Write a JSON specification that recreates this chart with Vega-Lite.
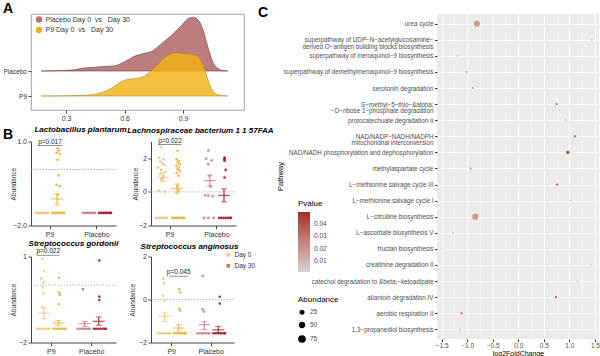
{
"$schema":"https://vega.github.io/schema/vega-lite/v6.json",
"padding":{"left":2,"top":1,"right":0,"bottom":0},
"config":{"font":"Liberation Sans","view":{"stroke":null},
 "axis":{"grid":false,"domainColor":"#444","tickColor":"#444","labelColor":"#333","labelFontSize":7,"tickSize":3,"labelPadding":1.5,"titleFontWeight":"normal","titleFontSize":6.5,"titleColor":"#333"},
 "title":{"color":"#000"}},
"datasets":{
"ridge":[
{"g":"Placebo","x":0.172,"d":0},{"g":"Placebo","x":0.3,"d":0.07},{"g":"Placebo","x":0.343,"d":0.13},{"g":"Placebo","x":0.39,"d":0.3},{"g":"Placebo","x":0.44,"d":0.37},{"g":"Placebo","x":0.479,"d":0.43},{"g":"Placebo","x":0.548,"d":0.53},{"g":"Placebo","x":0.6,"d":0.93},{"g":"Placebo","x":0.65,"d":1.47},{"g":"Placebo","x":0.7,"d":1.77},{"g":"Placebo","x":0.745,"d":2.03},{"g":"Placebo","x":0.787,"d":2.7},{"g":"Placebo","x":0.838,"d":3.53},{"g":"Placebo","x":0.89,"d":4.53},{"g":"Placebo","x":0.924,"d":5.2},{"g":"Placebo","x":0.95,"d":5.37},{"g":"Placebo","x":0.976,"d":5.13},{"g":"Placebo","x":1.001,"d":4.2},{"g":"Placebo","x":1.027,"d":2.4},{"g":"Placebo","x":1.052,"d":0.9},{"g":"Placebo","x":1.078,"d":0.27},{"g":"Placebo","x":1.1,"d":0.05},{"g":"Placebo","x":1.129,"d":0},
{"g":"P9","x":0.172,"d":0},{"g":"P9","x":0.3,"d":0.02},{"g":"P9","x":0.394,"d":0.07},{"g":"P9","x":0.479,"d":0.33},{"g":"P9","x":0.531,"d":0.77},{"g":"P9","x":0.573,"d":1.33},{"g":"P9","x":0.616,"d":1.67},{"g":"P9","x":0.668,"d":1.77},{"g":"P9","x":0.702,"d":2.0},{"g":"P9","x":0.745,"d":2.67},{"g":"P9","x":0.787,"d":3.5},{"g":"P9","x":0.83,"d":4.17},{"g":"P9","x":0.864,"d":4.33},{"g":"P9","x":0.915,"d":4.23},{"g":"P9","x":0.967,"d":4.07},{"g":"P9","x":1.001,"d":3.17},{"g":"P9","x":1.027,"d":1.67},{"g":"P9","x":1.052,"d":0.5},{"g":"P9","x":1.086,"d":0.1},{"g":"P9","x":1.129,"d":0}
],
"pts":[
{"sp":"L","g":"P9","c":"P9 Day 0","s":"a1","v":-1.55},{"sp":"L","g":"P9","c":"P9 Day 0","s":"a3","v":-1.55},{"sp":"L","g":"P9","c":"P9 Day 0","s":"a5","v":-1.55},{"sp":"L","g":"P9","c":"P9 Day 0","s":"a7","v":-1.55},{"sp":"L","g":"P9","c":"P9 Day 0","s":"a9","v":-1.55},{"sp":"L","g":"P9","c":"P9 Day 0","s":"a11","v":-1.55},{"sp":"L","g":"P9","c":"P9 Day 0","s":"a12","v":-1.55},
{"sp":"L","g":"P9","c":"P9 Day 30","s":"b6","v":0.76},{"sp":"L","g":"P9","c":"P9 Day 30","s":"b7","v":0.68},{"sp":"L","g":"P9","c":"P9 Day 30","s":"b5","v":0.6},{"sp":"L","g":"P9","c":"P9 Day 30","s":"b8","v":0.55},{"sp":"L","g":"P9","c":"P9 Day 30","s":"b6","v":0.35},{"sp":"L","g":"P9","c":"P9 Day 30","s":"b7","v":-0.21},{"sp":"L","g":"P9","c":"P9 Day 30","s":"b5","v":-0.55},{"sp":"L","g":"P9","c":"P9 Day 30","s":"b8","v":-0.6},{"sp":"L","g":"P9","c":"P9 Day 30","s":"b6","v":-0.9},
{"sp":"L","g":"P9","c":"P9 Day 30","s":"b1","v":-1.55},{"sp":"L","g":"P9","c":"P9 Day 30","s":"b3","v":-1.55},{"sp":"L","g":"P9","c":"P9 Day 30","s":"b5","v":-1.55},{"sp":"L","g":"P9","c":"P9 Day 30","s":"b7","v":-1.55},{"sp":"L","g":"P9","c":"P9 Day 30","s":"b9","v":-1.55},{"sp":"L","g":"P9","c":"P9 Day 30","s":"b11","v":-1.55},{"sp":"L","g":"P9","c":"P9 Day 30","s":"b12","v":-1.55},
{"sp":"L","g":"Placebo","c":"Placebo Day 0","s":"a1","v":-1.55},{"sp":"L","g":"Placebo","c":"Placebo Day 0","s":"a3","v":-1.55},{"sp":"L","g":"Placebo","c":"Placebo Day 0","s":"a5","v":-1.55},{"sp":"L","g":"Placebo","c":"Placebo Day 0","s":"a7","v":-1.55},{"sp":"L","g":"Placebo","c":"Placebo Day 0","s":"a9","v":-1.55},{"sp":"L","g":"Placebo","c":"Placebo Day 0","s":"a11","v":-1.55},{"sp":"L","g":"Placebo","c":"Placebo Day 0","s":"a12","v":-1.55},
{"sp":"L","g":"Placebo","c":"Placebo Day 30","s":"b1","v":-1.55},{"sp":"L","g":"Placebo","c":"Placebo Day 30","s":"b3","v":-1.55},{"sp":"L","g":"Placebo","c":"Placebo Day 30","s":"b5","v":-1.55},{"sp":"L","g":"Placebo","c":"Placebo Day 30","s":"b7","v":-1.55},{"sp":"L","g":"Placebo","c":"Placebo Day 30","s":"b9","v":-1.55},{"sp":"L","g":"Placebo","c":"Placebo Day 30","s":"b11","v":-1.55},{"sp":"L","g":"Placebo","c":"Placebo Day 30","s":"b12","v":-1.55},

{"sp":"La","g":"P9","c":"P9 Day 0","s":"a6","v":2.67},{"sp":"La","g":"P9","c":"P9 Day 0","s":"a4","v":2.04},{"sp":"La","g":"P9","c":"P9 Day 0","s":"a8","v":1.94},{"sp":"La","g":"P9","c":"P9 Day 0","s":"a5","v":1.8},{"sp":"La","g":"P9","c":"P9 Day 0","s":"a7","v":1.7},{"sp":"La","g":"P9","c":"P9 Day 0","s":"a9","v":1.6},{"sp":"La","g":"P9","c":"P9 Day 0","s":"a3","v":1.45},{"sp":"La","g":"P9","c":"P9 Day 0","s":"a6","v":1.31},{"sp":"La","g":"P9","c":"P9 Day 0","s":"a10","v":1.2},{"sp":"La","g":"P9","c":"P9 Day 0","s":"a5","v":1.06},{"sp":"La","g":"P9","c":"P9 Day 0","s":"a8","v":0.92},{"sp":"La","g":"P9","c":"P9 Day 0","s":"a6","v":0.76},{"sp":"La","g":"P9","c":"P9 Day 0","s":"a4","v":0.08},{"sp":"La","g":"P9","c":"P9 Day 0","s":"a9","v":0.02},
{"sp":"La","g":"P9","c":"P9 Day 0","s":"a1","v":-1.55},{"sp":"La","g":"P9","c":"P9 Day 0","s":"a3","v":-1.55},{"sp":"La","g":"P9","c":"P9 Day 0","s":"a5","v":-1.55},{"sp":"La","g":"P9","c":"P9 Day 0","s":"a7","v":-1.55},{"sp":"La","g":"P9","c":"P9 Day 0","s":"a9","v":-1.55},{"sp":"La","g":"P9","c":"P9 Day 0","s":"a11","v":-1.55},
{"sp":"La","g":"P9","c":"P9 Day 30","s":"b6","v":2.43},{"sp":"La","g":"P9","c":"P9 Day 30","s":"b5","v":1.94},{"sp":"La","g":"P9","c":"P9 Day 30","s":"b7","v":1.84},{"sp":"La","g":"P9","c":"P9 Day 30","s":"b6","v":1.75},{"sp":"La","g":"P9","c":"P9 Day 30","s":"b8","v":1.65},{"sp":"La","g":"P9","c":"P9 Day 30","s":"b5","v":1.55},{"sp":"La","g":"P9","c":"P9 Day 30","s":"b7","v":1.45},{"sp":"La","g":"P9","c":"P9 Day 30","s":"b6","v":1.35},{"sp":"La","g":"P9","c":"P9 Day 30","s":"b8","v":1.25},{"sp":"La","g":"P9","c":"P9 Day 30","s":"b5","v":1.12},{"sp":"La","g":"P9","c":"P9 Day 30","s":"b7","v":0.96},{"sp":"La","g":"P9","c":"P9 Day 30","s":"b6","v":0.33},{"sp":"La","g":"P9","c":"P9 Day 30","s":"b7","v":0.08},
{"sp":"La","g":"P9","c":"P9 Day 30","s":"b1","v":-1.55},{"sp":"La","g":"P9","c":"P9 Day 30","s":"b3","v":-1.55},{"sp":"La","g":"P9","c":"P9 Day 30","s":"b5","v":-1.55},{"sp":"La","g":"P9","c":"P9 Day 30","s":"b7","v":-1.55},{"sp":"La","g":"P9","c":"P9 Day 30","s":"b9","v":-1.55},{"sp":"La","g":"P9","c":"P9 Day 30","s":"b11","v":-1.55},{"sp":"La","g":"P9","c":"P9 Day 30","s":"b12","v":-1.55},
{"sp":"La","g":"Placebo","c":"Placebo Day 0","s":"a6","v":2.47},{"sp":"La","g":"Placebo","c":"Placebo Day 0","s":"a4","v":1.98},{"sp":"La","g":"Placebo","c":"Placebo Day 0","s":"a9","v":1.88},{"sp":"La","g":"Placebo","c":"Placebo Day 0","s":"a6","v":1.65},{"sp":"La","g":"Placebo","c":"Placebo Day 0","s":"a7","v":0.96},{"sp":"La","g":"Placebo","c":"Placebo Day 0","s":"a8","v":0.33},{"sp":"La","g":"Placebo","c":"Placebo Day 0","s":"a3","v":-0.2},{"sp":"La","g":"Placebo","c":"Placebo Day 0","s":"a6","v":-0.22},{"sp":"La","g":"Placebo","c":"Placebo Day 0","s":"a10","v":-0.25},
{"sp":"La","g":"Placebo","c":"Placebo Day 0","s":"a2","v":-1.55},{"sp":"La","g":"Placebo","c":"Placebo Day 0","s":"a6","v":-1.55},{"sp":"La","g":"Placebo","c":"Placebo Day 0","s":"a11","v":-1.55},
{"sp":"La","g":"Placebo","c":"Placebo Day 30","s":"b6","v":2.04},{"sp":"La","g":"Placebo","c":"Placebo Day 30","s":"b6","v":1.98},{"sp":"La","g":"Placebo","c":"Placebo Day 30","s":"b6","v":1.92},{"sp":"La","g":"Placebo","c":"Placebo Day 30","s":"b6","v":1.86},{"sp":"La","g":"Placebo","c":"Placebo Day 30","s":"b7","v":1.31},{"sp":"La","g":"Placebo","c":"Placebo Day 30","s":"b6","v":0.86},
{"sp":"La","g":"Placebo","c":"Placebo Day 30","s":"b1","v":-1.55},{"sp":"La","g":"Placebo","c":"Placebo Day 30","s":"b3","v":-1.55},{"sp":"La","g":"Placebo","c":"Placebo Day 30","s":"b5","v":-1.55},{"sp":"La","g":"Placebo","c":"Placebo Day 30","s":"b7","v":-1.55},{"sp":"La","g":"Placebo","c":"Placebo Day 30","s":"b9","v":-1.55},{"sp":"La","g":"Placebo","c":"Placebo Day 30","s":"b11","v":-1.55},{"sp":"La","g":"Placebo","c":"Placebo Day 30","s":"b12","v":-1.55},

{"sp":"G","g":"P9","c":"P9 Day 0","s":"a6","v":0.92},{"sp":"G","g":"P9","c":"P9 Day 0","s":"a7","v":0.49},{"sp":"G","g":"P9","c":"P9 Day 0","s":"a5","v":0.23},{"sp":"G","g":"P9","c":"P9 Day 0","s":"a7","v":0.09},{"sp":"G","g":"P9","c":"P9 Day 0","s":"a6","v":-0.08},{"sp":"G","g":"P9","c":"P9 Day 0","s":"a7","v":-0.29},{"sp":"G","g":"P9","c":"P9 Day 0","s":"a6","v":-0.77},
{"sp":"G","g":"P9","c":"P9 Day 0","s":"a1","v":-1.52},{"sp":"G","g":"P9","c":"P9 Day 0","s":"a3","v":-1.52},{"sp":"G","g":"P9","c":"P9 Day 0","s":"a5","v":-1.52},{"sp":"G","g":"P9","c":"P9 Day 0","s":"a7","v":-1.52},{"sp":"G","g":"P9","c":"P9 Day 0","s":"a9","v":-1.52},{"sp":"G","g":"P9","c":"P9 Day 0","s":"a11","v":-1.52},{"sp":"G","g":"P9","c":"P9 Day 0","s":"a12","v":-1.52},
{"sp":"G","g":"P9","c":"P9 Day 30","s":"b6","v":0.26},{"sp":"G","g":"P9","c":"P9 Day 30","s":"b6","v":-0.25},{"sp":"G","g":"P9","c":"P9 Day 30","s":"b7","v":-0.33},{"sp":"G","g":"P9","c":"P9 Day 30","s":"b6","v":-0.66},
{"sp":"G","g":"P9","c":"P9 Day 30","s":"b1","v":-1.52},{"sp":"G","g":"P9","c":"P9 Day 30","s":"b3","v":-1.52},{"sp":"G","g":"P9","c":"P9 Day 30","s":"b5","v":-1.52},{"sp":"G","g":"P9","c":"P9 Day 30","s":"b7","v":-1.52},{"sp":"G","g":"P9","c":"P9 Day 30","s":"b9","v":-1.52},{"sp":"G","g":"P9","c":"P9 Day 30","s":"b11","v":-1.52},{"sp":"G","g":"P9","c":"P9 Day 30","s":"b12","v":-1.52},
{"sp":"G","g":"Placebo","c":"Placebo Day 0","s":"a6","v":-0.14},
{"sp":"G","g":"Placebo","c":"Placebo Day 0","s":"a1","v":-1.52},{"sp":"G","g":"Placebo","c":"Placebo Day 0","s":"a3","v":-1.52},{"sp":"G","g":"Placebo","c":"Placebo Day 0","s":"a5","v":-1.52},{"sp":"G","g":"Placebo","c":"Placebo Day 0","s":"a7","v":-1.52},{"sp":"G","g":"Placebo","c":"Placebo Day 0","s":"a9","v":-1.52},{"sp":"G","g":"Placebo","c":"Placebo Day 0","s":"a11","v":-1.52},{"sp":"G","g":"Placebo","c":"Placebo Day 0","s":"a12","v":-1.52},
{"sp":"G","g":"Placebo","c":"Placebo Day 30","s":"b6","v":0.86},{"sp":"G","g":"Placebo","c":"Placebo Day 30","s":"b6","v":-0.4},{"sp":"G","g":"Placebo","c":"Placebo Day 30","s":"b6","v":-0.52},
{"sp":"G","g":"Placebo","c":"Placebo Day 30","s":"b1","v":-1.52},{"sp":"G","g":"Placebo","c":"Placebo Day 30","s":"b3","v":-1.52},{"sp":"G","g":"Placebo","c":"Placebo Day 30","s":"b5","v":-1.52},{"sp":"G","g":"Placebo","c":"Placebo Day 30","s":"b7","v":-1.52},{"sp":"G","g":"Placebo","c":"Placebo Day 30","s":"b9","v":-1.52},{"sp":"G","g":"Placebo","c":"Placebo Day 30","s":"b11","v":-1.52},{"sp":"G","g":"Placebo","c":"Placebo Day 30","s":"b12","v":-1.52},

{"sp":"An","g":"P9","c":"P9 Day 0","s":"a6","v":0.97},{"sp":"An","g":"P9","c":"P9 Day 0","s":"a7","v":0.76},{"sp":"An","g":"P9","c":"P9 Day 0","s":"a6","v":0.17},{"sp":"An","g":"P9","c":"P9 Day 0","s":"a7","v":-0.06},
{"sp":"An","g":"P9","c":"P9 Day 0","s":"a1","v":-1.57},{"sp":"An","g":"P9","c":"P9 Day 0","s":"a3","v":-1.57},{"sp":"An","g":"P9","c":"P9 Day 0","s":"a5","v":-1.57},{"sp":"An","g":"P9","c":"P9 Day 0","s":"a7","v":-1.57},{"sp":"An","g":"P9","c":"P9 Day 0","s":"a9","v":-1.57},{"sp":"An","g":"P9","c":"P9 Day 0","s":"a11","v":-1.57},{"sp":"An","g":"P9","c":"P9 Day 0","s":"a12","v":-1.57},
{"sp":"An","g":"P9","c":"P9 Day 30","s":"b6","v":0.49},{"sp":"An","g":"P9","c":"P9 Day 30","s":"b7","v":0.33},{"sp":"An","g":"P9","c":"P9 Day 30","s":"b6","v":-0.43},{"sp":"An","g":"P9","c":"P9 Day 30","s":"b7","v":-0.51},
{"sp":"An","g":"P9","c":"P9 Day 30","s":"b1","v":-1.57},{"sp":"An","g":"P9","c":"P9 Day 30","s":"b3","v":-1.57},{"sp":"An","g":"P9","c":"P9 Day 30","s":"b5","v":-1.57},{"sp":"An","g":"P9","c":"P9 Day 30","s":"b7","v":-1.57},{"sp":"An","g":"P9","c":"P9 Day 30","s":"b9","v":-1.57},{"sp":"An","g":"P9","c":"P9 Day 30","s":"b11","v":-1.57},{"sp":"An","g":"P9","c":"P9 Day 30","s":"b12","v":-1.57},
{"sp":"An","g":"Placebo","c":"Placebo Day 0","s":"a6","v":1.1},{"sp":"An","g":"Placebo","c":"Placebo Day 0","s":"a6","v":-0.46},{"sp":"An","g":"Placebo","c":"Placebo Day 0","s":"a7","v":-0.57},
{"sp":"An","g":"Placebo","c":"Placebo Day 0","s":"a1","v":-1.57},{"sp":"An","g":"Placebo","c":"Placebo Day 0","s":"a3","v":-1.57},{"sp":"An","g":"Placebo","c":"Placebo Day 0","s":"a5","v":-1.57},{"sp":"An","g":"Placebo","c":"Placebo Day 0","s":"a7","v":-1.57},{"sp":"An","g":"Placebo","c":"Placebo Day 0","s":"a9","v":-1.57},{"sp":"An","g":"Placebo","c":"Placebo Day 0","s":"a11","v":-1.57},{"sp":"An","g":"Placebo","c":"Placebo Day 0","s":"a12","v":-1.57},
{"sp":"An","g":"Placebo","c":"Placebo Day 30","s":"b7","v":0.13},{"sp":"An","g":"Placebo","c":"Placebo Day 30","s":"b7","v":-0.19},
{"sp":"An","g":"Placebo","c":"Placebo Day 30","s":"b1","v":-1.57},{"sp":"An","g":"Placebo","c":"Placebo Day 30","s":"b3","v":-1.57},{"sp":"An","g":"Placebo","c":"Placebo Day 30","s":"b5","v":-1.57},{"sp":"An","g":"Placebo","c":"Placebo Day 30","s":"b7","v":-1.57},{"sp":"An","g":"Placebo","c":"Placebo Day 30","s":"b9","v":-1.57},{"sp":"An","g":"Placebo","c":"Placebo Day 30","s":"b11","v":-1.57},{"sp":"An","g":"Placebo","c":"Placebo Day 30","s":"b12","v":-1.57}
],
"err":[
{"sp":"L","g":"P9","day":"Day 0","c":"P9 Day 0","m":-1.55,"lo":-1.55,"hi":-1.55},{"sp":"L","g":"P9","day":"Day 30","c":"P9 Day 30","m":-1.05,"lo":-1.26,"hi":-0.87},{"sp":"L","g":"Placebo","day":"Day 0","c":"Placebo Day 0","m":-1.55,"lo":-1.55,"hi":-1.55},{"sp":"L","g":"Placebo","day":"Day 30","c":"Placebo Day 30","m":-1.55,"lo":-1.55,"hi":-1.55},
{"sp":"La","g":"P9","day":"Day 0","c":"P9 Day 0","m":0.86,"lo":0.6,"hi":1.16},{"sp":"La","g":"P9","day":"Day 30","c":"P9 Day 30","m":0.2,"lo":-0.08,"hi":0.47},{"sp":"La","g":"Placebo","day":"Day 0","c":"Placebo Day 0","m":0.67,"lo":0.33,"hi":1.0},{"sp":"La","g":"Placebo","day":"Day 30","c":"Placebo Day 30","m":-0.21,"lo":-0.6,"hi":0.18},
{"sp":"G","g":"P9","day":"Day 0","c":"P9 Day 0","m":-0.98,"lo":-1.17,"hi":-0.79},{"sp":"G","g":"P9","day":"Day 30","c":"P9 Day 30","m":-1.32,"lo":-1.4,"hi":-1.23},{"sp":"G","g":"Placebo","day":"Day 0","c":"Placebo Day 0","m":-1.34,"lo":-1.44,"hi":-1.26},{"sp":"G","g":"Placebo","day":"Day 30","c":"Placebo Day 30","m":-1.26,"lo":-1.4,"hi":-1.11},
{"sp":"An","g":"P9","day":"Day 0","c":"P9 Day 0","m":-0.78,"lo":-1.02,"hi":-0.62},{"sp":"An","g":"P9","day":"Day 30","c":"P9 Day 30","m":-1.33,"lo":-1.46,"hi":-1.17},{"sp":"An","g":"Placebo","day":"Day 0","c":"Placebo Day 0","m":-1.17,"lo":-1.41,"hi":-1.02},{"sp":"An","g":"Placebo","day":"Day 30","c":"Placebo Day 30","m":-1.41,"lo":-1.54,"hi":-1.25}
],
"pv":[
{"sp":"L","g":"P9","t":"p=0.017","ty":0.91,"u":0.86},
{"sp":"La","g":"P9","t":"p=0.022","ty":2.9,"u":2.82},
{"sp":"G","g":"P9","t":"p=0.022","ty":1.11,"u":1.045},
{"sp":"An","g":"P9","t":"p=0.045","ty":1.165,"u":1.085}
],
"path":[
{"pw":"urea cycle","lfc":-0.81,"p":0.018,"ab":72},
{"pw":"superpathway of UDP−N−acetylglucosamine−\nderived O−antigen building blocks biosynthesis","lfc":1.44,"p":0.006,"ab":5},
{"pw":"superpathway of menaquinol−9 biosynthesis","lfc":-1.19,"p":0.01,"ab":5},
{"pw":"superpathway of demethylmenaquinol−9 biosynthesis","lfc":-1.01,"p":0.03,"ab":4},
{"pw":"serotonin degradation","lfc":-0.89,"p":0.035,"ab":4},
{"pw":"S−methyl−5−thio−&alpha;\n−D−ribose 1−phosphate degradation","lfc":0.75,"p":0.048,"ab":5},
{"pw":"protocatechuate degradation II","lfc":0.93,"p":0.012,"ab":5},
{"pw":"NAD/NADP−NADH/NADPH\nmitochondrial interconversion","lfc":1.11,"p":0.025,"ab":12},
{"pw":"NAD/NADH phosphorylation and dephosphorylation","lfc":0.97,"p":0.043,"ab":22},
{"pw":"methylaspartate cycle","lfc":-0.93,"p":0.03,"ab":4},
{"pw":"L−methionine salvage cycle III","lfc":0.76,"p":0.048,"ab":5},
{"pw":"L−methionine salvage cycle I","lfc":1.02,"p":0.01,"ab":5},
{"pw":"L−citrulline biosynthesis","lfc":-0.84,"p":0.018,"ab":78},
{"pw":"L−ascorbate biosynthesis V","lfc":-1.27,"p":0.008,"ab":4},
{"pw":"fructan biosynthesis","lfc":-1.51,"p":0.005,"ab":4},
{"pw":"creatinine degradation II","lfc":1.42,"p":0.005,"ab":5},
{"pw":"catechol degradation to &beta;−ketoadipate","lfc":1.16,"p":0.008,"ab":5},
{"pw":"allantoin degradation IV","lfc":0.74,"p":0.049,"ab":6},
{"pw":"aerobic respiration II","lfc":-1.11,"p":0.02,"ab":12},
{"pw":"1,3−propanediol biosynthesis","lfc":-1.14,"p":0.008,"ab":5}
]
},
"hconcat":[
{"vconcat":[
 {"width":213,"height":96,
  "title":{"text":"A","anchor":"start","frame":"group","fontSize":14,"fontWeight":"bold","dx":-28,"baseline":"alphabetic","offset":-13},
  "view":{"stroke":"#8c8c8c","strokeWidth":0.8},
  "data":{"name":"ridge"},
  "layer":[
   {"transform":[{"filter":"datum.g==='Placebo'"}],
    "mark":{"type":"area","interpolate":"monotone","fillOpacity":0.92,"stroke":"#6e3f3f","strokeWidth":0.6},
    "encoding":{
     "x":{"field":"x","type":"quantitative","title":null,"scale":{"domain":[0.12,1.212],"nice":false,"zero":false},"axis":{"values":[0.3,0.6,0.9],"format":".1f","domain":false,"tickSize":3,"labelFontSize":7}},
     "y":{"field":"d","type":"quantitative","title":null,"scale":{"domain":[-3.9,5.7],"nice":false,"zero":false},"axis":null},
     "y2":{"datum":0},
     "color":{"field":"g","type":"nominal","scale":{"domain":["Placebo","P9"],"range":["#B87272","#F2B310"]},
      "legend":{"orient":"none","legendX":4.5,"legendY":2,"title":null,"labelFontSize":7,"labelColor":"#333","symbolType":"circle","symbolSize":40,"symbolStrokeWidth":0,"symbolOpacity":1,"rowPadding":2.5,"labelOffset":3,"labelExpr":"datum.label + ' Day 0\u00a0\u00a0vs\u00a0\u00a0\u00a0Day 30'"}}}},
   {"transform":[{"filter":"datum.g==='P9'"}],
    "mark":{"type":"area","interpolate":"monotone","fillOpacity":0.8,"stroke":"#a07a20","strokeWidth":0.5},
    "encoding":{
     "x":{"field":"x","type":"quantitative","title":null,"scale":{"domain":[0.12,1.212],"nice":false,"zero":false}},
     "y":{"field":"d","type":"quantitative","title":null,"scale":{"domain":[-1.4,8.2],"nice":false,"zero":false},"axis":{"orient":"left","values":[0,2.5],"labelExpr":"datum.value < 1 ? 'P9' : 'Placebo'","domain":false,"tickSize":3,"labelFontSize":6.5}},
     "y2":{"datum":0},
     "color":{"field":"g","type":"nominal","scale":{"domain":["Placebo","P9"],"range":["#B87272","#F2B310"]}}}}
  ],
  "resolve":{"scale":{"y":"independent"},"axis":{"y":"independent"}}
 },
 {"title":{"text":"B","anchor":"start","frame":"group","fontSize":14,"fontWeight":"bold","dx":-28,"baseline":"alphabetic","offset":-27},
  "columns":2,"spacing":{"row":31,"column":35},"bounds":"flush",
  "resolve":{"scale":{"color":"independent","fill":"independent"}},
  "concat":[
   {"width":85,"height":84,
    "title":{"text":"Lactobacillus plantarum","frame":"group","fontSize":8,"fontStyle":"italic","fontWeight":"bold","baseline":"alphabetic","offset":-2.5,"dx":7},
    "layer":[
     {"data":{"values":[{}]},"mark":{"type":"rule","strokeDash":[1.5,1.5],"color":"#98a8b8","strokeWidth":0.8},"encoding":{"y":{"datum":0,"type":"quantitative","title":"Abundance","scale":{"domain":[-2,1],"nice":false,"zero":false}}}},
     {"data":{"name":"pts"},"transform":[{"filter":"datum.sp==='L'"}],"mark":{"type":"circle","size":7,"opacity":0.9},
      "encoding":{
       "x":{"field":"g","type":"nominal","title":null,"scale":{"domain":["P9","Placebo"],"paddingInner":0.4,"paddingOuter":0.105},"axis":{"labelAngle":0}},
       "xOffset":{"field":"s","type":"nominal","scale":{"domain":["a1","a2","a3","a4","a5","a6","a7","a8","a9","a10","a11","a12","g1","g2","g3","b1","b2","b3","b4","b5","b6","b7","b8","b9","b10","b11","b12"],"paddingInner":0,"paddingOuter":0}},
       "y":{"field":"v","type":"quantitative","title":"Abundance","scale":{"domain":[-2,1],"nice":false,"zero":false},"axis":{"values":[-2,-1.5,-1,-0.5,0,0.5,1],"format":".1f","titleX":-18,"titleY":42,"titleBaseline":"middle","titleAngle":270}},
       "color":{"field":"c","type":"nominal","scale":{"domain":["P9 Day 0","P9 Day 30","Placebo Day 0","Placebo Day 30"],"range":["#E9C67F","#E3B03A","#C97F8B","#A01C2C"]},"legend":null}}},
     {"data":{"name":"err"},"transform":[{"filter":"datum.sp==='L'"}],"mark":{"type":"tick","size":12,"thickness":1.3},
      "encoding":{"x":{"field":"g","type":"nominal","title":null,"scale":{"domain":["P9","Placebo"],"paddingInner":0.4,"paddingOuter":0.105}},"xOffset":{"field":"day","type":"nominal","scale":{"domain":["Day 0","Day 30"],"paddingInner":0,"paddingOuter":0}},"y":{"field":"m","type":"quantitative","title":"Abundance","scale":{"domain":[-2,1],"nice":false,"zero":false}},"color":{"field":"c","type":"nominal","legend":null}}},
     {"data":{"name":"err"},"transform":[{"filter":"datum.sp==='L'"}],"mark":{"type":"rule","strokeWidth":1.1},
      "encoding":{"x":{"field":"g","type":"nominal","title":null,"scale":{"domain":["P9","Placebo"],"paddingInner":0.4,"paddingOuter":0.105}},"xOffset":{"field":"day","type":"nominal","scale":{"domain":["Day 0","Day 30"],"paddingInner":0,"paddingOuter":0}},"y":{"field":"lo","type":"quantitative","title":"Abundance","scale":{"domain":[-2,1],"nice":false,"zero":false}},"y2":{"field":"hi"},"color":{"field":"c","type":"nominal","legend":null}}},
     {"data":{"name":"err"},"transform":[{"filter":"datum.sp==='L'"}],"mark":{"type":"tick","size":6,"thickness":1},
      "encoding":{"x":{"field":"g","type":"nominal","title":null,"scale":{"domain":["P9","Placebo"],"paddingInner":0.4,"paddingOuter":0.105}},"xOffset":{"field":"day","type":"nominal","scale":{"domain":["Day 0","Day 30"],"paddingInner":0,"paddingOuter":0}},"y":{"field":"lo","type":"quantitative","title":"Abundance","scale":{"domain":[-2,1],"nice":false,"zero":false}},"color":{"field":"c","type":"nominal","legend":null}}},
     {"data":{"name":"err"},"transform":[{"filter":"datum.sp==='L'"}],"mark":{"type":"tick","size":6,"thickness":1},
      "encoding":{"x":{"field":"g","type":"nominal","title":null,"scale":{"domain":["P9","Placebo"],"paddingInner":0.4,"paddingOuter":0.105}},"xOffset":{"field":"day","type":"nominal","scale":{"domain":["Day 0","Day 30"],"paddingInner":0,"paddingOuter":0}},"y":{"field":"hi","type":"quantitative","title":"Abundance","scale":{"domain":[-2,1],"nice":false,"zero":false}},"color":{"field":"c","type":"nominal","legend":null}}},
     {"data":{"name":"pv"},"transform":[{"filter":"datum.sp==='L'"}],"mark":{"type":"text","fontSize":6.5,"baseline":"alphabetic","color":"#222"},
      "encoding":{"x":{"field":"g","type":"nominal","title":null,"scale":{"domain":["P9","Placebo"],"paddingInner":0.4,"paddingOuter":0.105}},"y":{"field":"ty","type":"quantitative","title":"Abundance","scale":{"domain":[-2,1],"nice":false,"zero":false}},"text":{"field":"t"}}},
     {"data":{"name":"pv"},"transform":[{"filter":"datum.sp==='L'"}],"mark":{"type":"tick","size":25,"thickness":0.7,"color":"#222"},
      "encoding":{"x":{"field":"g","type":"nominal","title":null,"scale":{"domain":["P9","Placebo"],"paddingInner":0.4,"paddingOuter":0.105}},"y":{"field":"u","type":"quantitative","title":"Abundance","scale":{"domain":[-2,1],"nice":false,"zero":false}}}}
    ],
    "resolve":{"scale":{"xOffset":"independent"}}
   },
   {"width":85,"height":84,
    "title":{"text":"Lachnospiraceae bacterium 1 1 57FAA","frame":"group","fontSize":8,"fontStyle":"italic","fontWeight":"bold","baseline":"alphabetic","offset":-2.5,"dx":7},
    "layer":[
     {"data":{"values":[{}]},"mark":{"type":"rule","strokeDash":[1.5,1.5],"color":"#98a8b8","strokeWidth":0.8},"encoding":{"y":{"datum":0,"type":"quantitative","title":"Abundance","scale":{"domain":[-2,3],"nice":false,"zero":false}}}},
     {"data":{"name":"pts"},"transform":[{"filter":"datum.sp==='La'"}],"mark":{"type":"circle","size":7,"opacity":0.9},
      "encoding":{
       "x":{"field":"g","type":"nominal","title":null,"scale":{"domain":["P9","Placebo"],"paddingInner":0.4,"paddingOuter":0.105},"axis":{"labelAngle":0}},
       "xOffset":{"field":"s","type":"nominal","scale":{"domain":["a1","a2","a3","a4","a5","a6","a7","a8","a9","a10","a11","a12","g1","g2","g3","b1","b2","b3","b4","b5","b6","b7","b8","b9","b10","b11","b12"],"paddingInner":0,"paddingOuter":0}},
       "y":{"field":"v","type":"quantitative","title":"Abundance","scale":{"domain":[-2,3],"nice":false,"zero":false},"axis":{"values":[-2,-1,0,1,2,3],"format":"d","titleX":-16,"titleY":42,"titleBaseline":"middle","titleAngle":270}},
       "color":{"field":"c","type":"nominal","scale":{"domain":["P9 Day 0","P9 Day 30","Placebo Day 0","Placebo Day 30"],"range":["#E9C67F","#E3B03A","#C97F8B","#A01C2C"]},"legend":null}}},
     {"data":{"name":"err"},"transform":[{"filter":"datum.sp==='La'"}],"mark":{"type":"tick","size":12,"thickness":1.3},
      "encoding":{"x":{"field":"g","type":"nominal","title":null,"scale":{"domain":["P9","Placebo"],"paddingInner":0.4,"paddingOuter":0.105}},"xOffset":{"field":"day","type":"nominal","scale":{"domain":["Day 0","Day 30"],"paddingInner":0,"paddingOuter":0}},"y":{"field":"m","type":"quantitative","title":"Abundance","scale":{"domain":[-2,3],"nice":false,"zero":false}},"color":{"field":"c","type":"nominal","legend":null}}},
     {"data":{"name":"err"},"transform":[{"filter":"datum.sp==='La'"}],"mark":{"type":"rule","strokeWidth":1.1},
      "encoding":{"x":{"field":"g","type":"nominal","title":null,"scale":{"domain":["P9","Placebo"],"paddingInner":0.4,"paddingOuter":0.105}},"xOffset":{"field":"day","type":"nominal","scale":{"domain":["Day 0","Day 30"],"paddingInner":0,"paddingOuter":0}},"y":{"field":"lo","type":"quantitative","title":"Abundance","scale":{"domain":[-2,3],"nice":false,"zero":false}},"y2":{"field":"hi"},"color":{"field":"c","type":"nominal","legend":null}}},
     {"data":{"name":"err"},"transform":[{"filter":"datum.sp==='La'"}],"mark":{"type":"tick","size":6,"thickness":1},
      "encoding":{"x":{"field":"g","type":"nominal","title":null,"scale":{"domain":["P9","Placebo"],"paddingInner":0.4,"paddingOuter":0.105}},"xOffset":{"field":"day","type":"nominal","scale":{"domain":["Day 0","Day 30"],"paddingInner":0,"paddingOuter":0}},"y":{"field":"lo","type":"quantitative","title":"Abundance","scale":{"domain":[-2,3],"nice":false,"zero":false}},"color":{"field":"c","type":"nominal","legend":null}}},
     {"data":{"name":"err"},"transform":[{"filter":"datum.sp==='La'"}],"mark":{"type":"tick","size":6,"thickness":1},
      "encoding":{"x":{"field":"g","type":"nominal","title":null,"scale":{"domain":["P9","Placebo"],"paddingInner":0.4,"paddingOuter":0.105}},"xOffset":{"field":"day","type":"nominal","scale":{"domain":["Day 0","Day 30"],"paddingInner":0,"paddingOuter":0}},"y":{"field":"hi","type":"quantitative","title":"Abundance","scale":{"domain":[-2,3],"nice":false,"zero":false}},"color":{"field":"c","type":"nominal","legend":null}}},
     {"data":{"name":"pv"},"transform":[{"filter":"datum.sp==='La'"}],"mark":{"type":"text","fontSize":6.5,"baseline":"alphabetic","color":"#222"},
      "encoding":{"x":{"field":"g","type":"nominal","title":null,"scale":{"domain":["P9","Placebo"],"paddingInner":0.4,"paddingOuter":0.105}},"y":{"field":"ty","type":"quantitative","title":"Abundance","scale":{"domain":[-2,3],"nice":false,"zero":false}},"text":{"field":"t"}}},
     {"data":{"name":"pv"},"transform":[{"filter":"datum.sp==='La'"}],"mark":{"type":"tick","size":23,"thickness":0.7,"color":"#222"},
      "encoding":{"x":{"field":"g","type":"nominal","title":null,"scale":{"domain":["P9","Placebo"],"paddingInner":0.4,"paddingOuter":0.105}},"y":{"field":"u","type":"quantitative","title":"Abundance","scale":{"domain":[-2,3],"nice":false,"zero":false}}}}
    ],
    "resolve":{"scale":{"xOffset":"independent"}}
   },
   {"width":85,"height":86,
    "title":{"text":"Streptococcus gordonii","frame":"group","fontSize":8,"fontStyle":"italic","fontWeight":"bold","baseline":"alphabetic","offset":-5.6,"dx":0},
    "layer":[
     {"data":{"values":[{}]},"mark":{"type":"rule","strokeDash":[1.5,1.5],"color":"#98a8b8","strokeWidth":0.8},"encoding":{"y":{"datum":0,"type":"quantitative","title":"Abundance","scale":{"domain":[-2,1],"nice":false,"zero":false}}}},
     {"data":{"name":"pts"},"transform":[{"filter":"datum.sp==='G'"}],"mark":{"type":"circle","size":7,"opacity":0.9},
      "encoding":{
       "x":{"field":"g","type":"nominal","title":null,"scale":{"domain":["P9","Placebo"],"paddingInner":0.3,"paddingOuter":0.2,"align":0.375},"axis":{"labelAngle":0}},
       "xOffset":{"field":"s","type":"nominal","scale":{"domain":["a1","a2","a3","a4","a5","a6","a7","a8","a9","a10","a11","a12","g1","g2","g3","b1","b2","b3","b4","b5","b6","b7","b8","b9","b10","b11","b12"],"paddingInner":0,"paddingOuter":0}},
       "y":{"field":"v","type":"quantitative","title":"Abundance","scale":{"domain":[-2,1],"nice":false,"zero":false},"axis":{"values":[-2,-1,0,1],"format":"d","titleX":-18,"titleY":43,"titleBaseline":"middle","titleAngle":270}},
       "color":{"field":"c","type":"nominal","scale":{"domain":["P9 Day 0","P9 Day 30","Placebo Day 0","Placebo Day 30"],"range":["#E9C67F","#E3B03A","#C97F8B","#A01C2C"]},"legend":null}}},
     {"data":{"name":"err"},"transform":[{"filter":"datum.sp==='G'"}],"mark":{"type":"tick","size":12,"thickness":1.3},
      "encoding":{"x":{"field":"g","type":"nominal","title":null,"scale":{"domain":["P9","Placebo"],"paddingInner":0.3,"paddingOuter":0.2,"align":0.375}},"xOffset":{"field":"day","type":"nominal","scale":{"domain":["Day 0","Day 30"],"paddingInner":0,"paddingOuter":0}},"y":{"field":"m","type":"quantitative","title":"Abundance","scale":{"domain":[-2,1],"nice":false,"zero":false}},"color":{"field":"c","type":"nominal","legend":null}}},
     {"data":{"name":"err"},"transform":[{"filter":"datum.sp==='G'"}],"mark":{"type":"rule","strokeWidth":1.1},
      "encoding":{"x":{"field":"g","type":"nominal","title":null,"scale":{"domain":["P9","Placebo"],"paddingInner":0.3,"paddingOuter":0.2,"align":0.375}},"xOffset":{"field":"day","type":"nominal","scale":{"domain":["Day 0","Day 30"],"paddingInner":0,"paddingOuter":0}},"y":{"field":"lo","type":"quantitative","title":"Abundance","scale":{"domain":[-2,1],"nice":false,"zero":false}},"y2":{"field":"hi"},"color":{"field":"c","type":"nominal","legend":null}}},
     {"data":{"name":"err"},"transform":[{"filter":"datum.sp==='G'"}],"mark":{"type":"tick","size":6,"thickness":1},
      "encoding":{"x":{"field":"g","type":"nominal","title":null,"scale":{"domain":["P9","Placebo"],"paddingInner":0.3,"paddingOuter":0.2,"align":0.375}},"xOffset":{"field":"day","type":"nominal","scale":{"domain":["Day 0","Day 30"],"paddingInner":0,"paddingOuter":0}},"y":{"field":"lo","type":"quantitative","title":"Abundance","scale":{"domain":[-2,1],"nice":false,"zero":false}},"color":{"field":"c","type":"nominal","legend":null}}},
     {"data":{"name":"err"},"transform":[{"filter":"datum.sp==='G'"}],"mark":{"type":"tick","size":6,"thickness":1},
      "encoding":{"x":{"field":"g","type":"nominal","title":null,"scale":{"domain":["P9","Placebo"],"paddingInner":0.3,"paddingOuter":0.2,"align":0.375}},"xOffset":{"field":"day","type":"nominal","scale":{"domain":["Day 0","Day 30"],"paddingInner":0,"paddingOuter":0}},"y":{"field":"hi","type":"quantitative","title":"Abundance","scale":{"domain":[-2,1],"nice":false,"zero":false}},"color":{"field":"c","type":"nominal","legend":null}}},
     {"data":{"name":"pv"},"transform":[{"filter":"datum.sp==='G'"}],"mark":{"type":"text","fontSize":6.5,"baseline":"alphabetic","color":"#222","dx":-3},
      "encoding":{"x":{"field":"g","type":"nominal","title":null,"scale":{"domain":["P9","Placebo"],"paddingInner":0.3,"paddingOuter":0.2,"align":0.375}},"y":{"field":"ty","type":"quantitative","title":"Abundance","scale":{"domain":[-2,1],"nice":false,"zero":false}},"text":{"field":"t"}}},
     {"data":{"name":"pv"},"transform":[{"filter":"datum.sp==='G'"}],"mark":{"type":"tick","size":23,"thickness":0.7,"color":"#222","xOffset":-3},
      "encoding":{"x":{"field":"g","type":"nominal","title":null,"scale":{"domain":["P9","Placebo"],"paddingInner":0.3,"paddingOuter":0.2,"align":0.375}},"y":{"field":"u","type":"quantitative","title":"Abundance","scale":{"domain":[-2,1],"nice":false,"zero":false}}}}
    ],
    "resolve":{"scale":{"xOffset":"independent"}}
   },
   {"width":83,"height":86,
    "title":{"text":"Streptococcus anginosus","frame":"group","fontSize":8,"fontStyle":"italic","fontWeight":"bold","baseline":"alphabetic","offset":-5.4,"dx":-3},
    "layer":[
     {"data":{"values":[{}]},"mark":{"type":"rule","strokeDash":[1.5,1.5],"color":"#98a8b8","strokeWidth":0.8},"encoding":{"y":{"datum":0,"type":"quantitative","title":"Abundance","scale":{"domain":[-2,2],"nice":false,"zero":false}}}},
     {"data":{"name":"pts"},"transform":[{"filter":"datum.sp==='An'"}],"mark":{"type":"circle","size":7,"opacity":0.9},
      "encoding":{
       "x":{"field":"g","type":"nominal","title":null,"scale":{"domain":["P9","Placebo"],"paddingInner":0.3,"paddingOuter":0.2,"align":0.435},"axis":{"labelAngle":0}},
       "xOffset":{"field":"s","type":"nominal","scale":{"domain":["a1","a2","a3","a4","a5","a6","a7","a8","a9","a10","a11","a12","g1","g2","g3","b1","b2","b3","b4","b5","b6","b7","b8","b9","b10","b11","b12"],"paddingInner":0,"paddingOuter":0}},
       "y":{"field":"v","type":"quantitative","title":"Abundance","scale":{"domain":[-2,2],"nice":false,"zero":false},"axis":{"values":[-2,-1,0,1,2],"format":"d","titleX":-19,"titleY":43,"titleBaseline":"middle","titleAngle":270}},
       "color":{"field":"c","type":"nominal","scale":{"domain":["P9 Day 0","P9 Day 30","Placebo Day 0","Placebo Day 30"],"range":["#E9C67F","#E3B03A","#C97F8B","#A01C2C"]},"legend":null}}},
     {"data":{"name":"err"},"transform":[{"filter":"datum.sp==='An'"}],"mark":{"type":"tick","size":12,"thickness":1.3},
      "encoding":{"x":{"field":"g","type":"nominal","title":null,"scale":{"domain":["P9","Placebo"],"paddingInner":0.3,"paddingOuter":0.2,"align":0.435}},"xOffset":{"field":"day","type":"nominal","scale":{"domain":["Day 0","Day 30"],"paddingInner":0,"paddingOuter":0}},"y":{"field":"m","type":"quantitative","title":"Abundance","scale":{"domain":[-2,2],"nice":false,"zero":false}},"color":{"field":"c","type":"nominal","legend":null}}},
     {"data":{"name":"err"},"transform":[{"filter":"datum.sp==='An'"}],"mark":{"type":"rule","strokeWidth":1.1},
      "encoding":{"x":{"field":"g","type":"nominal","title":null,"scale":{"domain":["P9","Placebo"],"paddingInner":0.3,"paddingOuter":0.2,"align":0.435}},"xOffset":{"field":"day","type":"nominal","scale":{"domain":["Day 0","Day 30"],"paddingInner":0,"paddingOuter":0}},"y":{"field":"lo","type":"quantitative","title":"Abundance","scale":{"domain":[-2,2],"nice":false,"zero":false}},"y2":{"field":"hi"},"color":{"field":"c","type":"nominal","legend":null}}},
     {"data":{"name":"err"},"transform":[{"filter":"datum.sp==='An'"}],"mark":{"type":"tick","size":6,"thickness":1},
      "encoding":{"x":{"field":"g","type":"nominal","title":null,"scale":{"domain":["P9","Placebo"],"paddingInner":0.3,"paddingOuter":0.2,"align":0.435}},"xOffset":{"field":"day","type":"nominal","scale":{"domain":["Day 0","Day 30"],"paddingInner":0,"paddingOuter":0}},"y":{"field":"lo","type":"quantitative","title":"Abundance","scale":{"domain":[-2,2],"nice":false,"zero":false}},"color":{"field":"c","type":"nominal","legend":null}}},
     {"data":{"name":"err"},"transform":[{"filter":"datum.sp==='An'"}],"mark":{"type":"tick","size":6,"thickness":1},
      "encoding":{"x":{"field":"g","type":"nominal","title":null,"scale":{"domain":["P9","Placebo"],"paddingInner":0.3,"paddingOuter":0.2,"align":0.435}},"xOffset":{"field":"day","type":"nominal","scale":{"domain":["Day 0","Day 30"],"paddingInner":0,"paddingOuter":0}},"y":{"field":"hi","type":"quantitative","title":"Abundance","scale":{"domain":[-2,2],"nice":false,"zero":false}},"color":{"field":"c","type":"nominal","legend":null}}},
     {"data":{"name":"pv"},"transform":[{"filter":"datum.sp==='An'"}],"mark":{"type":"text","fontSize":6.5,"baseline":"alphabetic","color":"#222","dx":7},
      "encoding":{"x":{"field":"g","type":"nominal","title":null,"scale":{"domain":["P9","Placebo"],"paddingInner":0.3,"paddingOuter":0.2,"align":0.435}},"y":{"field":"ty","type":"quantitative","title":"Abundance","scale":{"domain":[-2,2],"nice":false,"zero":false}},"text":{"field":"t"}}},
     {"data":{"name":"pv"},"transform":[{"filter":"datum.sp==='An'"}],"mark":{"type":"tick","size":18,"thickness":0.7,"color":"#222","xOffset":7},
      "encoding":{"x":{"field":"g","type":"nominal","title":null,"scale":{"domain":["P9","Placebo"],"paddingInner":0.3,"paddingOuter":0.2,"align":0.435}},"y":{"field":"u","type":"quantitative","title":"Abundance","scale":{"domain":[-2,2],"nice":false,"zero":false}}}},
     {"data":{"name":"err"},"transform":[{"filter":"datum.sp==='An' && datum.g==='P9'"}],"mark":{"type":"square","opacity":0,"size":0},
      "encoding":{"x":{"field":"g","type":"nominal","title":null,"scale":{"domain":["P9","Placebo"],"paddingInner":0.3,"paddingOuter":0.2,"align":0.435}},"y":{"field":"m","type":"quantitative","title":"Abundance","scale":{"domain":[-2,2],"nice":false,"zero":false}},
       "fill":{"field":"day","type":"nominal","scale":{"domain":["Day 0","Day 30"],"range":["#F2C6A0","#C8843F"]},"legend":{"orient":"none","legendX":74,"legendY":-5,"title":null,"labelFontSize":6.5,"labelColor":"#333","symbolType":"square","symbolSize":14,"symbolOpacity":1,"symbolStrokeWidth":0,"rowPadding":4,"labelOffset":3}}}}
    ],
    "resolve":{"scale":{"xOffset":"independent"}}
   }
  ]}
],"spacing":3.5,"resolve":{"scale":{"color":"independent","fill":"independent","size":"independent"}}},
{"width":162,"height":325,
 "title":{"text":"C","anchor":"start","frame":"group","fontSize":14,"fontWeight":"bold","dx":-179,"baseline":"alphabetic","offset":-17.3},
 "view":{"fill":"#EBEBEB","stroke":null},
 "data":{"name":"path"},
 "mark":{"type":"circle","opacity":1},
 "encoding":{
  "x":{"field":"lfc","type":"quantitative","scale":{"domain":[-1.59,1.58],"nice":false,"zero":false},
   "axis":{"values":[-1.5,-1.25,-1,-0.75,-0.5,-0.25,0,0.25,0.5,0.75,1,1.25,1.5],"format":".1f",
    "labelExpr":"abs(datum.value*2-round(datum.value*2))<0.01 ? datum.label : ''",
    "grid":true,"gridColor":"#ffffff",
    "gridWidth":{"condition":{"test":"abs(datum.value*2-round(datum.value*2))<0.01","value":1},"value":0.45},
    "tickOpacity":{"condition":{"test":"abs(datum.value*2-round(datum.value*2))<0.01","value":1},"value":0},
    "domain":false,"tickSize":2.5,"tickColor":"#333","labelFontSize":6.5,"labelColor":"#4d4d4d","labelPadding":0.5,
    "title":"log2FoldChange","titleFontSize":7,"titleColor":"#000","titlePadding":0.5}},
  "y":{"field":"pw","type":"nominal","sort":null,
   "scale":{"domain":["urea cycle","superpathway of UDP−N−acetylglucosamine−\nderived O−antigen building blocks biosynthesis","superpathway of menaquinol−9 biosynthesis","superpathway of demethylmenaquinol−9 biosynthesis","serotonin degradation","S−methyl−5−thio−&alpha;\n−D−ribose 1−phosphate degradation","protocatechuate degradation II","NAD/NADP−NADH/NADPH\nmitochondrial interconversion","NAD/NADH phosphorylation and dephosphorylation","methylaspartate cycle","L−methionine salvage cycle III","L−methionine salvage cycle I","L−citrulline biosynthesis","L−ascorbate biosynthesis V","fructan biosynthesis","creatinine degradation II","catechol degradation to &beta;−ketoadipate","allantoin degradation IV","aerobic respiration II","1,3−propanediol biosynthesis"],"padding":0.6},
   "axis":{"labelExpr":"split(datum.label,'\\n')","grid":true,"gridColor":"#ffffff","gridWidth":1,"domain":false,"tickSize":2.5,"tickColor":"#333","labelFontSize":6.3,"labelColor":"#4d4d4d","labelLimit":0,"labelPadding":1.5,"labelLineHeight":6.5,
    "title":"Pathway","titleFontSize":7.5,"titleColor":"#000","titleX":-157,"titleY":162,"titleAngle":270,"titleBaseline":"middle"}},
  "color":{"field":"p","type":"quantitative","scale":{"domain":[0.001,0.0497],"range":["#D3D3D3","#A52A2A"],"interpolate":"lab"},
   "legend":{"title":"Pvalue","orient":"none","legendX":-139,"legendY":186,"gradientLength":60,"gradientThickness":12,"values":[0.01,0.02,0.03,0.04],"format":".2f","titleFontSize":8,"titleFontWeight":"normal","titleColor":"#000","labelFontSize":6.5,"labelColor":"#4d4d4d","titlePadding":4,"labelOffset":4}},
  "size":{"field":"ab","type":"quantitative","scale":{"domain":[0,100],"range":[1,50]},
   "legend":{"title":"Abundance","orient":"none","legendX":-139,"legendY":282,"values":[25,50,75],"symbolType":"circle","symbolFillColor":"#000","symbolStrokeColor":"#000","symbolOpacity":1,"titleFontSize":8,"titleFontWeight":"normal","titleColor":"#000","labelFontSize":6.5,"labelColor":"#4d4d4d","rowPadding":0.5}}
 }
}
],
"spacing":-16,
"resolve":{"scale":{"color":"independent","size":"independent","fill":"independent"}}
}
